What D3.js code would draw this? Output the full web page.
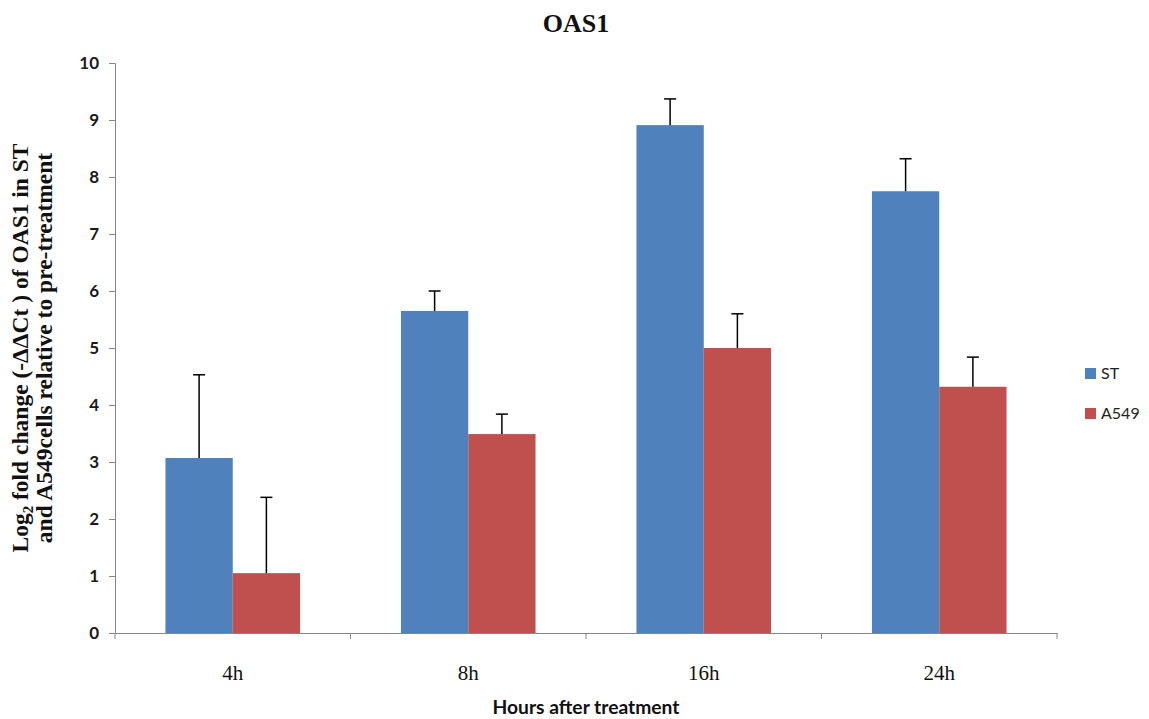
<!DOCTYPE html>
<html><head><meta charset="utf-8">
<script src="https://cdn.jsdelivr.net/npm/d3@7/dist/d3.min.js"></script>
<style>body{margin:0;background:#fff}</style>
</head><body>
<svg id="c" width="1149" height="719"></svg>
<script>
const categories = ["4h", "8h", "16h", "24h"];
const seriesNames = ["ST", "A549"];
const stValues = [3.07, 5.65, 8.91, 7.75];
const a549Values = [1.05, 3.49, 5.0, 4.32];
const stErrors = [1.46, 0.35, 0.46, 0.57];
const a549Errors = [1.33, 0.35, 0.6, 0.52];
const yTicks = [0,1,2,3,4,5,6,7,8,9,10];
const colors = ["#4F81BD", "#C0504D"];

(function(){
const svg = d3.select("#c");
const mLeft = 115, mRight = 1057, mTop = 63, mBottom = 633;

const x = d3.scaleBand().domain(categories).range([mLeft, mRight]).paddingInner(0).paddingOuter(0);
const xs = d3.scaleBand().domain(seriesNames).range([0, x.bandwidth()]).paddingInner(0).paddingOuter(0.75);
const y = d3.scaleLinear().domain([0, 10]).range([mBottom, mTop]);

const axisColor = "#868686";
const sansBold = "Lato, Carlito, 'Liberation Sans', Arial, sans-serif";

// y axis
const yAxis = svg.append("g").attr("transform", `translate(${mLeft},0)`)
  .call(d3.axisLeft(y).tickValues(yTicks).tickSize(6).tickPadding(10).tickFormat(d3.format("d")));
yAxis.select(".domain").attr("stroke", axisColor);
yAxis.selectAll(".tick line").attr("stroke", axisColor);
yAxis.selectAll("text").attr("font-family", sansBold)
  .attr("font-weight", "bold").attr("font-size", 17).attr("fill", "#1a1a1a");

// x axis
const xAxis = svg.append("g").attr("transform", `translate(0,${mBottom})`)
  .call(d3.axisBottom(x).tickSize(0).tickPadding(32));
xAxis.select(".domain").attr("stroke", axisColor);
xAxis.selectAll("text").attr("font-family", "'Liberation Serif', 'Times New Roman', serif")
  .attr("font-size", 21).attr("fill", "#111");
const bounds = categories.map(c => x(c)).concat([x(categories[categories.length-1]) + x.bandwidth()]);
svg.append("g").selectAll("line").data(bounds).join("line")
  .attr("x1", d => d).attr("x2", d => d).attr("y1", mBottom).attr("y2", mBottom + 6)
  .attr("stroke", axisColor);

const data = categories.map((c, i) => ({
  cat: c,
  vals: [
    {s: "ST", v: stValues[i], e: stErrors[i], col: colors[0]},
    {s: "A549", v: a549Values[i], e: a549Errors[i], col: colors[1]}
  ]
}));

const groups = svg.append("g").selectAll("g").data(data).join("g")
  .attr("transform", d => `translate(${x(d.cat)},0)`);

groups.selectAll("rect").data(d => d.vals).join("rect")
  .attr("x", d => xs(d.s)).attr("width", xs.bandwidth())
  .attr("y", d => y(d.v)).attr("height", d => y(0) - y(d.v))
  .attr("fill", d => d.col);

const eb = groups.selectAll("g.err").data(d => d.vals).join("g").attr("class", "err");
eb.append("line")
  .attr("x1", d => xs(d.s) + xs.bandwidth()/2).attr("x2", d => xs(d.s) + xs.bandwidth()/2)
  .attr("y1", d => y(d.v)).attr("y2", d => y(d.v + d.e))
  .attr("stroke", "#000").attr("stroke-width", 1.5);
eb.append("line")
  .attr("x1", d => xs(d.s) + xs.bandwidth()/2 - 6).attr("x2", d => xs(d.s) + xs.bandwidth()/2 + 6)
  .attr("y1", d => y(d.v + d.e)).attr("y2", d => y(d.v + d.e))
  .attr("stroke", "#000").attr("stroke-width", 1.5);

svg.append("text").attr("x", 576).attr("y", 32).attr("text-anchor", "middle")
  .attr("font-family", "'Liberation Serif', 'Times New Roman', serif").attr("font-weight", "bold")
  .attr("font-size", 26).attr("fill", "#111").text("OAS1");

const yl = svg.append("text").attr("transform", "translate(0,348) rotate(-90)")
  .attr("text-anchor", "middle")
  .attr("font-family", "'Liberation Serif', 'Times New Roman', serif").attr("font-weight", "bold")
  .attr("font-size", 23.5).attr("fill", "#111");
const l1 = yl.append("tspan").attr("x", 0).attr("y", 28);
l1.append("tspan").text("Log");
l1.append("tspan").attr("font-size", 15).attr("dy", 5).text("2");
l1.append("tspan").attr("dy", -5).text(" fold change (-ΔΔCt ) of OAS1 in ST");
yl.append("tspan").attr("x", 0).attr("y", 52).text("and A549cells relative to pre-treatment");

svg.append("text").attr("x", 586).attr("y", 714).attr("text-anchor", "middle")
  .attr("font-family", sansBold).attr("font-weight", "bold")
  .attr("font-size", 18).attr("textLength", 187).attr("lengthAdjust", "spacingAndGlyphs")
  .attr("fill", "#111").text("Hours after treatment");

const lg = svg.append("g").selectAll("g").data(seriesNames).join("g")
  .attr("transform", (d, i) => `translate(1085,${368 + i * 40})`);
lg.append("rect").attr("width", 11).attr("height", 11).attr("fill", (d, i) => colors[i]);
lg.append("text").attr("x", 16).attr("y", 11)
  .attr("font-family", "Lato, Carlito, 'Liberation Sans', Arial, sans-serif").attr("font-size", 16)
  .attr("fill", "#222").text(d => d);
})();
</script>
</body></html>
